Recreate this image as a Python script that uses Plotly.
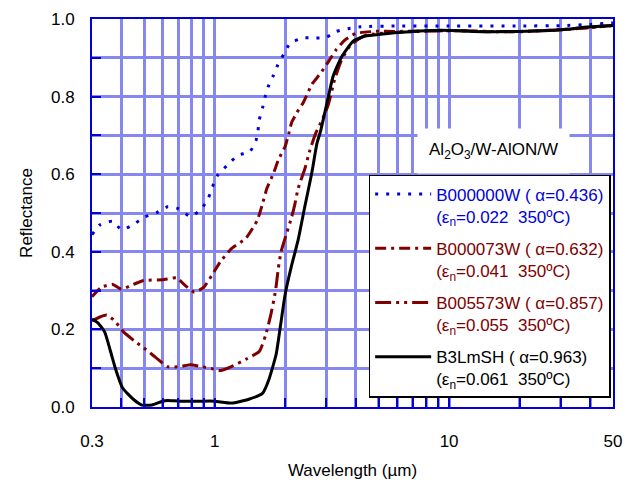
import plotly.graph_objects as go

# ---- data ----
wl_b0 = [0.3, 0.324, 0.368, 0.4, 0.448, 0.5, 0.566, 0.63, 0.7, 0.79, 0.88, 0.94, 0.98, 1.03, 1.14, 1.26, 1.41,
         1.5, 1.53, 1.55, 1.6, 1.64, 1.69, 1.78, 1.86, 1.97, 2.1, 2.39, 2.7, 3.0, 3.3, 3.7, 4.2, 6, 10, 20, 30, 40, 50]
r_b0 = [0.444, 0.469, 0.479, 0.457, 0.469, 0.489, 0.501, 0.516, 0.511, 0.491, 0.511, 0.538, 0.568, 0.597, 0.625,
        0.649, 0.657, 0.686, 0.711, 0.74, 0.77, 0.798, 0.825, 0.854, 0.882, 0.909, 0.938, 0.951, 0.951, 0.953, 0.968,
        0.975, 0.98, 0.982, 0.982, 0.982, 0.983, 0.986, 0.99]

wl_b73 = [0.3, 0.33, 0.368, 0.4, 0.45, 0.5, 0.6, 0.69, 0.74, 0.82, 0.9, 0.97, 1.06, 1.18, 1.36, 1.52, 1.6, 1.67,
          1.79, 1.87, 2.0, 2.07, 2.13, 2.25, 2.39, 2.5, 2.6, 2.83, 3.05, 3.3, 3.6, 4.0, 4.8, 6, 10, 15, 20, 30, 40, 50]
r_b73 = [0.284, 0.309, 0.316, 0.304, 0.316, 0.326, 0.328, 0.333, 0.316, 0.296, 0.309, 0.338, 0.375, 0.408, 0.435,
         0.481, 0.523, 0.563, 0.605, 0.637, 0.672, 0.704, 0.733, 0.76, 0.785, 0.81, 0.832, 0.86, 0.889, 0.921, 0.946,
         0.963, 0.968, 0.968, 0.97, 0.967, 0.968, 0.972, 0.978, 0.983]

wl_b5573 = [0.3, 0.324, 0.347, 0.375, 0.41, 0.46, 0.51, 0.56, 0.63, 0.71, 0.79, 0.88, 0.97, 1.06, 1.18, 1.36, 1.55,
            1.65, 1.74, 1.82, 1.87, 1.92, 2.0, 2.13, 2.2, 2.27, 2.42, 2.55, 2.7, 2.9, 3.05, 3.25, 3.47, 3.8, 4.4, 6,
            10, 20, 30, 40, 50]
r_b5573 = [0.222, 0.232, 0.237, 0.222, 0.193, 0.168, 0.148, 0.128, 0.104, 0.104, 0.109, 0.104, 0.099, 0.094, 0.104,
           0.123, 0.143, 0.185, 0.24, 0.301, 0.358, 0.4, 0.436, 0.489, 0.523, 0.563, 0.612, 0.662, 0.706, 0.745,
           0.778, 0.844, 0.893, 0.933, 0.958, 0.966, 0.97, 0.967, 0.973, 0.978, 0.983]

wl_b3l = [0.3, 0.318, 0.34, 0.36, 0.38, 0.405, 0.45, 0.49, 0.54, 0.6, 0.63, 0.71, 0.86, 1.0, 1.18, 1.4, 1.6, 1.7,
          1.83, 1.91, 2.0, 2.13, 2.27, 2.42, 2.6, 2.73, 2.83, 3.0, 3.2, 3.47, 3.9, 4.4, 5.0, 6.0, 7.9, 11.1, 12.7,
          20, 31, 37, 49, 50]
r_b3l = [0.227, 0.217, 0.193, 0.143, 0.094, 0.049, 0.02, 0.005, 0.005, 0.015, 0.017, 0.015, 0.015, 0.015, 0.01,
         0.02, 0.035, 0.069, 0.136, 0.21, 0.291, 0.365, 0.43, 0.514, 0.605, 0.679, 0.711, 0.778, 0.852, 0.901, 0.943,
         0.956, 0.96, 0.965, 0.97, 0.97, 0.968, 0.968, 0.973, 0.978, 0.983, 0.984]

x_ticks = [0.3, 1, 10, 50]
x_ticklabels = ["0.3", "1", "10", "50"]
x_minor = [0.4, 0.5, 0.6, 0.7, 0.8, 0.9, 2, 3, 4, 5, 6, 7, 8, 9, 20, 30, 40]
y_ticks = [0.0, 0.2, 0.4, 0.6, 0.8, 1.0]
y_ticklabels = ["0.0", "0.2", "0.4", "0.6", "0.8", "1.0"]
y_minor = [0.1, 0.3, 0.5, 0.7, 0.9]

BLUE = "rgb(0,0,220)"
RED = "rgb(128,0,0)"
BLACK = "black"
NB = "\u00a0"

series = [
    (wl_b0, r_b0, BLUE, "3px,8px", "B000000W ( α=0.436)", "0.022"),
    (wl_b73, r_b73, RED, "11px,5px,3px,5px", "B000073W ( α=0.632)", "0.041"),
    (wl_b5573, r_b5573, RED, "16px,5px,3px,5px,3px,5px", "B005573W ( α=0.857)", "0.055"),
    (wl_b3l, r_b3l, BLACK, "solid", "B3LmSH ( α=0.963)", "0.061"),
]

fig = go.Figure()
for i, (xs, ys, col, dash, l1, eps) in enumerate(series):
    name = (f'<span style="color:{col}">{l1}<br>(ε<sub>n</sub>=' + eps + NB + NB
            + '350ºC)</span>')
    fig.add_trace(go.Scatter(
        x=xs, y=ys, mode="lines", name=name, legendgroup=f"g{i}",
        line=dict(color=col, width=3, dash=dash, shape="spline", smoothing=0.5),
    ))

FONT = "Liberation Sans, Arial, Helvetica, sans-serif"
FS = 17
GRID = "rgb(135,135,240)"
AX = "rgb(0,0,215)"

fig.update_layout(
    width=632, height=487,
    margin=dict(l=92, r=15, t=10, b=72),
    paper_bgcolor="white", plot_bgcolor="white",
    font=dict(family=FONT, size=FS, color="black"),
    showlegend=True,
    legend=dict(
        x=0.531, y=0.598, xanchor="left", yanchor="top",
        bgcolor="white", bordercolor="black", borderwidth=1.5,
        font=dict(family=FONT, size=FS),
        valign="top", tracegroupgap=7, traceorder="grouped",
        itemwidth=56,
    ),
    annotations=[dict(
        x=0.77, y=0.66, xref="paper", yref="paper", xanchor="center", yanchor="middle",
        text="Al<sub>2</sub>O<sub>3</sub>/W-AlON/W", showarrow=False,
        font=dict(family=FONT, size=FS, color="black"),
        bgcolor="white", borderpad=11,
    )],
)

minor_style = dict(ticks="inside", ticklen=9, tickwidth=1.5, tickcolor=AX,
                   showgrid=True, gridcolor=GRID, gridwidth=2.5)

fig.update_xaxes(
    type="log", range=[-0.5228787, 1.69897],
    tickmode="array", tickvals=x_ticks, ticktext=x_ticklabels,
    minor=dict(tickmode="array", tickvals=x_minor, **minor_style),
    ticks="inside", ticklen=9, tickwidth=1.5, tickcolor=AX,
    showgrid=True, gridcolor=GRID, gridwidth=2.5,
    showline=True, linecolor=AX, linewidth=2, mirror=True,
    zeroline=False, ticklabelstandoff=18,
    title=dict(text="Wavelength (µm)", standoff=14, font=dict(size=FS)),
)
fig.update_yaxes(
    range=[0, 1],
    tickmode="array", tickvals=y_ticks, ticktext=y_ticklabels,
    minor=dict(tickmode="array", tickvals=y_minor, **minor_style),
    ticks="inside", ticklen=9, tickwidth=1.5, tickcolor=AX,
    showgrid=True, gridcolor=GRID, gridwidth=2.5,
    showline=True, linecolor=AX, linewidth=2, mirror=True,
    zeroline=False, ticklabelstandoff=12,
    title=dict(text="Reflectance", standoff=14, font=dict(size=FS)),
)

fig.write_html("out.html")
